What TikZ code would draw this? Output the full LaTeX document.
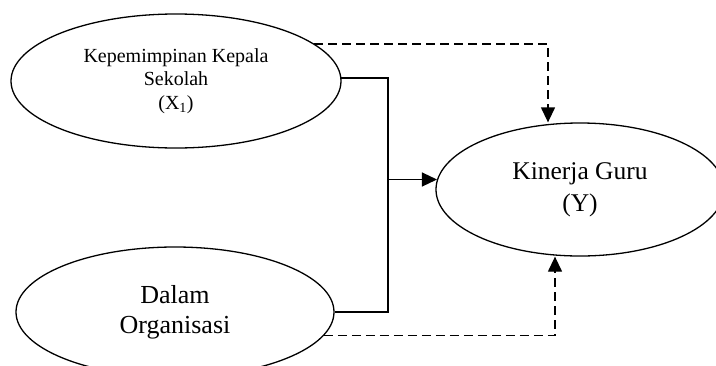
\documentclass[tikz,border=0pt]{standalone}
\usepackage{fontspec}
\setmainfont{Liberation Serif}
\usetikzlibrary{shapes.geometric,arrows.meta}
\begin{document}
\begin{tikzpicture}[x=1pt,y=-1pt,
  oval/.style={draw,ellipse,line width=1.3pt,inner sep=0pt,align=center},
  link/.style={line width=1.3pt},
  dlink/.style={line width=1.3pt,dash pattern=on 9pt off 5pt},
  tip/.style={-{Triangle[length=15pt,width=14pt]}}]
\useasboundingbox (0,0) rectangle (716,365);
\clip (0,0) rectangle (716,365);
\node[oval,minimum width=330pt,minimum height=134pt,
  font=\fontsize{20}{23.5}\selectfont] (E1) at (176,81)
  {Kepemimpinan Kepala\\Sekolah\\(X\textsubscript{1})};
\node[oval,minimum width=318pt,minimum height=130pt,
  font=\fontsize{26}{30}\selectfont] (E2) at (175,312)
  {Dalam\\Organisasi};
\node[oval,minimum width=288pt,minimum height=133pt,
  font=\fontsize{25.5}{32}\selectfont] (E3) at (580,189.5)
  {Kinerja Guru\\(Y)};
\coordinate (J2) at (388,312);
\coordinate (D1) at (548,43);
\coordinate (D2) at (555,337);
\draw[link] (E1.1.7) -| (J2) -- (J2 -| E2.east);
\draw[link,tip] (E3.176.6 -| J2) -- (E3.176.6);
\draw[dlink,tip] (E1.15.6) -| (D1 |- E3.north);
\draw[dlink,tip] (E2.-9.7) -| (D2 |- E3.south);
\end{tikzpicture}
\end{document}
